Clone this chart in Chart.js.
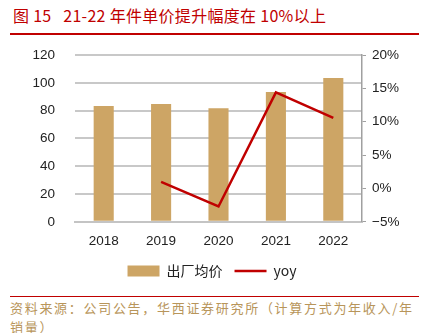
<!DOCTYPE html>
<html lang="zh">
<head>
<meta charset="UTF-8" />
<title>出厂均价</title>
<script src="https://cdn.jsdelivr.net/npm/chart.js"></script>
<style>
  body { margin: 0; width: 424px; height: 333px; background: #fff; position: relative; overflow: hidden;
         font-family: "Noto Sans CJK SC", "Liberation Sans", sans-serif; }
  .title { position: absolute; left: 13px; top: 3px; font-size: 16px; color: #c00000; white-space: pre; letter-spacing: 0.3px; }
  .rule-top { position: absolute; left: 10px; width: 409px; top: 33px; height: 2px; background: #c00000; }
  .rule-bot { position: absolute; left: 10px; width: 409px; top: 296px; height: 1px; background: #c00000; }
  .source { position: absolute; left: 10px; top: 298px; width: 412px; font-size: 13px; line-height: 19px;
            color: #b8955a; letter-spacing: 1.7px; }
  .chart-box { position: absolute; left: 0; top: 27px; width: 424px; height: 261px; }
</style>
</head>
<body>
  <div class="title">图 15   21-22 年件单价提升幅度在 10%以上</div>
  <div class="rule-top"></div>
  <div class="chart-box"><canvas id="priceChart"></canvas></div>
  <div class="rule-bot"></div>
  <div class="source">资料来源：公司公告，华西证券研究所（计算方式为年收入/年销量）</div>

  <script>
    const years = ['2018', '2019', '2020', '2021', '2022'];
    const avgPrice = [83.4, 84.8, 81.7, 93.4, 103.5];
    const yoy = [null, 1.0, -2.7, 14.4, 10.6];
    const leftTicks = [0, 20, 40, 60, 80, 100, 120];
    const rightTicks = [-5, 0, 5, 10, 15, 20];

    const tickFont = { family: 'Liberation Sans', size: 13.5 };

    new Chart(document.getElementById('priceChart'), {
      data: {
        labels: years,
        datasets: [
          {
            type: 'bar',
            label: '出厂均价',
            data: avgPrice,
            backgroundColor: '#cda565',
            yAxisID: 'y',
            barPercentage: 0.7,
            categoryPercentage: 0.5,
            order: 2
          },
          {
            type: 'line',
            label: 'yoy',
            data: yoy,
            borderColor: '#c00000',
            backgroundColor: '#c00000',
            borderWidth: 2.5,
            pointRadius: 0,
            tension: 0,
            yAxisID: 'y1',
            order: 1
          }
        ]
      },
      options: {
        responsive: true,
        maintainAspectRatio: false,
        animation: false,
        layout: { padding: { top: 8, bottom: 0 } },
        scales: {
          x: {
            grid: { display: false },
            border: { display: true, color: '#c4c4c4', width: 2 },
            ticks: { color: '#222', font: tickFont, padding: 3 }
          },
          y: {
            position: 'left',
            min: 0, max: 120,
            afterBuildTicks: s => { s.ticks = leftTicks.map(v => ({ value: v })); },
            afterFit: s => { s.width = 75; },
            grid: { color: '#c8c8c8', lineWidth: 2, drawTicks: false },
            border: { display: false },
            ticks: { color: '#222', font: tickFont, padding: 20 }
          },
          y1: {
            position: 'right',
            min: -5, max: 20,
            afterBuildTicks: s => { s.ticks = rightTicks.map(v => ({ value: v })); },
            afterFit: s => { s.width = 62; },
            grid: { drawOnChartArea: false, drawTicks: true, tickLength: 4, color: '#a0a0a0' },
            border: { display: true, color: '#a0a0a0', width: 1.5 },
            ticks: {
              color: '#222', font: tickFont, padding: 6,
              callback: v => (v < 0 ? '\u2212' + Math.abs(v) : v) + '%'
            }
          }
        },
        plugins: {
          legend: {
            position: 'bottom',
            labels: {
              usePointStyle: true,
              boxHeight: 11,
              pointStyleWidth: 32,
              padding: 12,
              color: '#222',
              font: { family: 'Noto Sans CJK SC', size: 14 },
              generateLabels: chart => chart.data.datasets.map((ds, i) => ({
                text: ds.label,
                datasetIndex: i,
                fillStyle: ds.backgroundColor,
                strokeStyle: ds.type === 'line' ? ds.borderColor : ds.backgroundColor,
                lineWidth: ds.type === 'line' ? 2.5 : 0,
                pointStyle: ds.type === 'line' ? 'line' : 'rect',
                fontColor: '#222'
              }))
            }
          },
          tooltip: { enabled: false }
        }
      }
    });
  </script>
</body>
</html>
